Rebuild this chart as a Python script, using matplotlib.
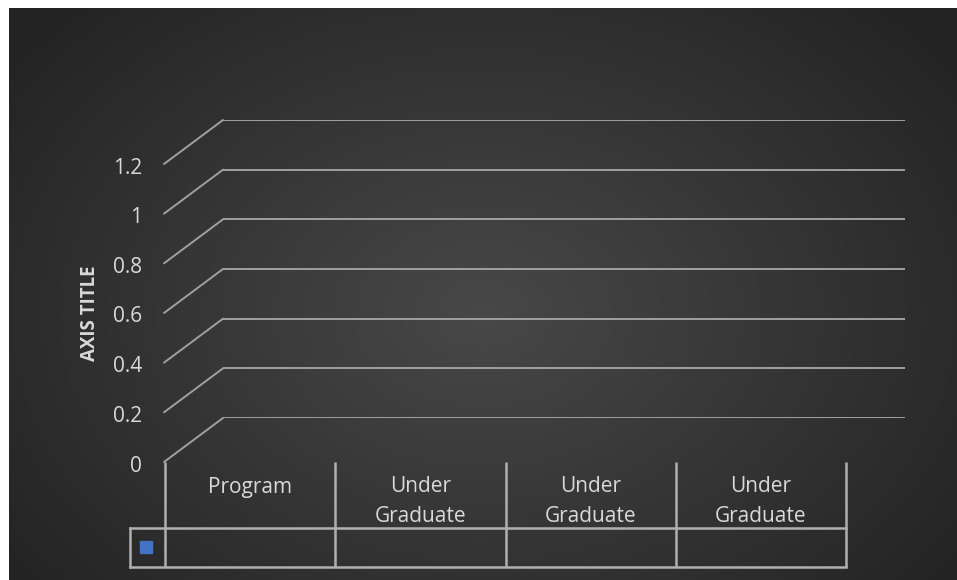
import numpy as np
import matplotlib
matplotlib.use("Agg")
import matplotlib.pyplot as plt
from matplotlib import transforms as mtrans

# ---- data ----
categories = ["Program", "Under\nGraduate", "Under\nGraduate", "Under\nGraduate"]
series_values = [0, 0, 0, 0]          # empty series (nothing plotted in reference)
y_ticks = [0, 0.2, 0.4, 0.6, 0.8, 1, 1.2]
y_tick_labels = ["0", "0.2", "0.4", "0.6", "0.8", "1", "1.2"]
axis_title = "AXIS TITLE"
series_color = "#4472C4"

W, H = 957, 580
FONT = ["Open Sans", "DejaVu Sans"]
TXT = "#d9d9d9"
GRID = "#a0a0a0"
TABLE = "#b0b0b0"

fig = plt.figure(figsize=(W / 100, H / 100), dpi=100)
fig.patch.set_facecolor("white")

# ---- background radial gradient (chart area) ----
bg = fig.add_axes([0, 0, 1, 1])
bg.set_xlim(0, W)
bg.set_ylim(H, 0)
bg.axis("off")
x0, y0 = 9, 8
xx, yy = np.meshgrid(np.linspace(x0, W, 480), np.linspace(y0, H, 290))
cx, cy = (x0 + W) / 2, (y0 + H) / 2 + 20
r = np.sqrt(((xx - cx) / ((W - x0) * 0.62)) ** 2 + ((yy - cy) / ((H - y0) * 0.75)) ** 2)
r = np.clip(r, 0, 1)
c_in, c_out = 0x48, 0x24
gray = (c_in + (c_out - c_in) * r) / 255.0
img = np.dstack([gray, gray, gray])
bg.imshow(img, extent=[x0, W, H, y0], aspect="auto", interpolation="bilinear", zorder=0)

# ---- back wall axes (value scale) ----
L, R, T, B = 223, 905, 120, 418
ax = fig.add_axes([L / W, 1 - B / H, (R - L) / W, (B - T) / H])
ax.set_facecolor("none")
ax.set_ylim(0, 1.2)
ax.set_xlim(-0.5, len(categories) - 0.5)
ax.set_yticks(y_ticks)
ax.set_xticks([])
ax.tick_params(axis="y", length=0, labelleft=False)
for s in ax.spines.values():
    s.set_visible(False)
ax.yaxis.grid(True, color=GRID, linewidth=1.4)
ax.set_axisbelow(True)
ax.bar(range(len(categories)), series_values, color=series_color, width=0.6)

# diagonal (side wall) gridlines and tick labels, offset from back wall
ytr = ax.get_yaxis_transform()
dx, dy = -59, -44
diag_tr = mtrans.offset_copy(ytr, fig=fig, x=dx, y=dy, units="dots")
lab_tr = mtrans.offset_copy(ytr, fig=fig, x=-81, y=-48, units="dots")
for v, lab in zip(y_ticks, y_tick_labels):
    ax.annotate("", xy=(0, v), xycoords=ytr, xytext=(0, v), textcoords=diag_tr,
                arrowprops=dict(arrowstyle="-", color=GRID, lw=1.4, shrinkA=0, shrinkB=0))
    ax.text(0, v, lab, transform=lab_tr, ha="right", va="center",
            color=TXT, fontsize=15, family=FONT, clip_on=False)

fig.text(90 / W, 1 - 313 / H, axis_title, rotation=90, ha="center", va="center",
         color=TXT, fontsize=13.5, fontweight="bold", family=FONT)

# ---- data table ----
ov = fig.add_axes([0, 0, 1, 1])
ov.set_xlim(0, W)
ov.set_ylim(H, 0)
ov.axis("off")
ov.patch.set_alpha(0)

tx0, tx1 = 165, 846
ty_top, ty_mid, ty_bot = 462, 528, 567
key_x = 130
n = len(categories)
colw = (tx1 - tx0) / n
lw = 1.8
for i in range(n + 1):
    xv = tx0 + i * colw
    ov.plot([xv, xv], [ty_top, ty_bot], color=TABLE, lw=lw, solid_capstyle="butt")
ov.plot([key_x, tx1], [ty_mid, ty_mid], color=TABLE, lw=lw)
ov.plot([key_x, tx1], [ty_bot, ty_bot], color=TABLE, lw=lw)
ov.plot([key_x, key_x], [ty_mid, ty_bot], color=TABLE, lw=lw)
for i, cat in enumerate(categories):
    for k, line in enumerate(cat.split("\n")):
        ov.text(tx0 + (i + 0.5) * colw, 487 + 29 * k, line, ha="center", va="center",
                color=TXT, fontsize=15, family=FONT)
ov.add_patch(plt.Rectangle((140, 541), 12, 12, color=series_color))

fig.savefig("out.png", dpi=100, facecolor=fig.get_facecolor())
